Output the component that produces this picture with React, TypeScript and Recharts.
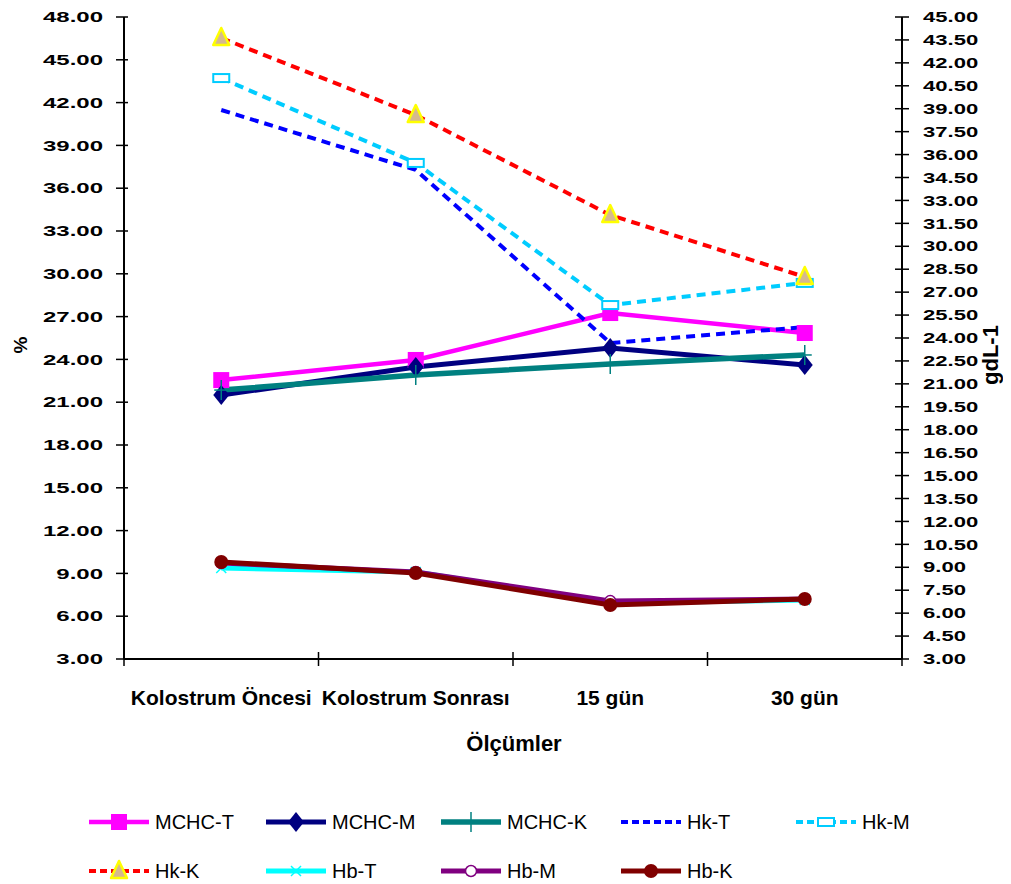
import React from "react";
import { LineChart, Line, XAxis, YAxis, Legend } from "recharts";

const categories = ["Kolostrum Öncesi", "Kolostrum Sonrası", "15 gün", "30 gün"];
const mchcT = [22.55, 23.96, 27.25, 25.85];
const mchcM = [21.5, 23.46, 24.8, 23.6];
const mchcK = [21.85, 22.9, 23.68, 24.31];
const hkT = [41.48, 37.28, 25.15, 26.27];
const hkM = [43.72, 37.77, 27.81, 29.36];
const hkK = [46.53, 41.13, 34.12, 29.78];
const hbT = [8.95, 8.69, 6.66, 6.86];
const hbM = [9.28, 8.69, 6.79, 6.93];
const hbK = [9.35, 8.63, 6.53, 6.93];
const leftTicks = [3, 6, 9, 12, 15, 18, 21, 24, 27, 30, 33, 36, 39, 42, 45, 48];
const rightTicks = [3, 4.5, 6, 7.5, 9, 10.5, 12, 13.5, 15, 16.5, 18, 19.5, 21, 22.5, 24, 25.5, 27, 28.5, 30, 31.5, 33, 34.5, 36, 37.5, 39, 40.5, 42, 43.5, 45];

const data = categories.map((c, i) => ({
  name: c,
  "MCHC-T": mchcT[i],
  "MCHC-M": mchcM[i],
  "MCHC-K": mchcK[i],
  "Hk-T": hkT[i],
  "Hk-M": hkM[i],
  "Hk-K": hkK[i],
  "Hb-T": hbT[i],
  "Hb-M": hbM[i],
  "Hb-K": hbK[i],
}));

const FONT = "'Liberation Sans', Arial, sans-serif";
const W = 1003;
const H = 876;
const HALF_BAND = 778 / 8;

type MarkerKind = "square" | "diamond" | "plus" | "none" | "rect" | "triangle" | "x" | "circleOpen" | "circle";

const Marker = ({ kind, cx, cy, color }: { kind: MarkerKind; cx: number; cy: number; color: string }) => {
  switch (kind) {
    case "square":
      return <rect x={cx - 8} y={cy - 8} width={16} height={16} fill={color} />;
    case "diamond":
      return <polygon points={`${cx},${cy - 10} ${cx + 8},${cy} ${cx},${cy + 10} ${cx - 8},${cy}`} fill={color} />;
    case "plus":
      return (
        <g stroke={color} strokeWidth={1.5}>
          <line x1={cx} y1={cy - 10} x2={cx} y2={cy + 10} />
          <line x1={cx - 7} y1={cy} x2={cx + 7} y2={cy} />
        </g>
      );
    case "rect":
      return <rect x={cx - 8} y={cy - 4} width={16} height={8} fill="white" stroke={color} strokeWidth={2} />;
    case "triangle":
      return (
        <polygon
          points={`${cx},${cy - 10} ${cx + 8},${cy + 7} ${cx - 8},${cy + 7}`}
          fill="#D6B98E"
          stroke="#FFFF00"
          strokeWidth={2.5}
          strokeLinejoin="round"
        />
      );
    case "x":
      return (
        <g stroke={color} strokeWidth={1.5}>
          <line x1={cx - 5} y1={cy - 5} x2={cx + 5} y2={cy + 5} />
          <line x1={cx - 5} y1={cy + 5} x2={cx + 5} y2={cy - 5} />
        </g>
      );
    case "circleOpen":
      return <circle cx={cx} cy={cy} r={5.5} fill="white" stroke={color} strokeWidth={1.5} />;
    case "circle":
      return <circle cx={cx} cy={cy} r={7} fill={color} />;
    default:
      return null;
  }
};

type SeriesDef = { key: string; color: string; width: number; dash?: string; marker: MarkerKind; axis: "left" | "right" };

const series: SeriesDef[] = [
  { key: "MCHC-T", color: "#FF00FF", width: 4.5, marker: "square", axis: "left" },
  { key: "MCHC-M", color: "#000080", width: 5, marker: "diamond", axis: "left" },
  { key: "MCHC-K", color: "#008080", width: 5.5, marker: "plus", axis: "left" },
  { key: "Hk-T", color: "#0000FF", width: 4, dash: "9 6", marker: "none", axis: "left" },
  { key: "Hk-M", color: "#00CCFF", width: 4, dash: "9 6", marker: "rect", axis: "left" },
  { key: "Hk-K", color: "#FF0000", width: 4, dash: "9 6", marker: "triangle", axis: "left" },
  { key: "Hb-T", color: "#00FFFF", width: 5, marker: "x", axis: "right" },
  { key: "Hb-M", color: "#800080", width: 5, marker: "circleOpen", axis: "right" },
  { key: "Hb-K", color: "#800000", width: 5, marker: "circle", axis: "right" },
];

const legendRows: string[][] = [
  ["MCHC-T", "MCHC-M", "MCHC-K", "Hk-T", "Hk-M"],
  ["Hk-K", "Hb-T", "Hb-M", "Hb-K"],
];
const legendX = [80, 257, 432, 612, 787];
const legendRowY = [63, 112];

const LegendContent = () => (
  <div style={{ position: "relative", width: W, height: 125 }}>
    {legendRows.map((row, r) =>
      row.map((k, i) => {
        const s = series.find((d) => d.key === k)!;
        return (
          <React.Fragment key={k}>
            <svg
              width={62}
              height={26}
              style={{ position: "absolute", left: legendX[i], top: legendRowY[r] - 13 }}
            >
              <line x1={1} y1={13} x2={61} y2={13} stroke={s.color} strokeWidth={s.width} strokeDasharray={s.dash ? "7 4" : undefined} />
              <Marker kind={s.marker} cx={31} cy={13} color={s.color} />
            </svg>
            <span
              style={{
                position: "absolute",
                left: legendX[i] + 67,
                top: legendRowY[r] - 11,
                fontFamily: FONT,
                fontSize: 20,
                lineHeight: "22px",
                color: "#000",
                whiteSpace: "nowrap",
              }}
            >
              {k}
            </span>
          </React.Fragment>
        );
      })
    )}
  </div>
);

const LeftTick = (props: any) => {
  const { x, y, payload } = props;
  return (
    <g>
      <line x1={x - 8} y1={y} x2={x + 4} y2={y} stroke="#000" strokeWidth={1.5} />
      <text
        transform={`translate(${x - 21},${y}) scale(1.6,1)`}
        textAnchor="end"
        dominantBaseline="central"
        fontFamily={FONT}
        fontWeight="bold"
        fontSize={15}
        fill="#000"
      >
        {Number(payload.value).toFixed(2)}
      </text>
    </g>
  );
};

const RightTick = (props: any) => {
  const { x, y, payload } = props;
  return (
    <g>
      <line x1={x - 7} y1={y} x2={x + 7} y2={y} stroke="#000" strokeWidth={1.5} />
      <text
        transform={`translate(${x + 21},${y}) scale(1.47,1)`}
        textAnchor="start"
        dominantBaseline="central"
        fontFamily={FONT}
        fontWeight="bold"
        fontSize={15}
        fill="#000"
      >
        {Number(payload.value).toFixed(2)}
      </text>
    </g>
  );
};

const BottomTick = (props: any) => {
  const { x, y, payload, index } = props;
  return (
    <g>
      <line x1={x - HALF_BAND} y1={y - 7} x2={x - HALF_BAND} y2={y + 7} stroke="#000" strokeWidth={1.5} />
      {index === categories.length - 1 && (
        <line x1={x + HALF_BAND} y1={y - 7} x2={x + HALF_BAND} y2={y + 7} stroke="#000" strokeWidth={1.5} />
      )}
      <text
        x={x}
        y={y + 38}
        textAnchor="middle"
        dominantBaseline="central"
        fontFamily={FONT}
        fontWeight="bold"
        fontSize={21}
        fill="#000"
      >
        {payload.value}
      </text>
    </g>
  );
};

export default function App() {
  return (
    <div style={{ width: W, height: H }}>
      <LineChart width={W} height={H} data={data} margin={{ top: 9, right: 0, left: 0, bottom: 0 }}>
        <XAxis
          dataKey="name"
          scale="band"
          height={100}
          tickSize={0}
          tickMargin={0}
          tickLine={false}
          interval={0}
          axisLine={{ stroke: "#000", strokeWidth: 2 }}
          tick={<BottomTick />}
          label={{
            content: (p: any) => {
              const vb = p.viewBox;
              return (
                <text
                  x={vb.x + vb.width / 2 + 1}
                  y={vb.y + 84}
                  textAnchor="middle"
                  dominantBaseline="central"
                  fontFamily={FONT}
                  fontWeight="bold"
                  fontSize={22}
                  fill="#000"
                >
                  Ölçümler
                </text>
              );
            },
          }}
        />
        <YAxis
          yAxisId="left"
          orientation="left"
          width={116}
          domain={[3, 48]}
          ticks={leftTicks}
          interval={0}
          tickSize={0}
          tickMargin={0}
          tickLine={false}
          axisLine={{ stroke: "#000", strokeWidth: 2 }}
          tick={<LeftTick />}
          allowDataOverflow
          label={{
            content: (p: any) => {
              const vb = p.viewBox;
              const cy = vb.y + vb.height / 2 + 7;
              return (
                <text
                  x={12}
                  y={cy}
                  transform={`rotate(-90 12 ${cy})`}
                  textAnchor="middle"
                  dominantBaseline="central"
                  fontFamily={FONT}
                  fontWeight="bold"
                  fontSize={19}
                  fill="#000"
                >
                  %
                </text>
              );
            },
          }}
        />
        <YAxis
          yAxisId="right"
          orientation="right"
          width={109}
          domain={[3, 45]}
          ticks={rightTicks}
          interval={0}
          tickSize={0}
          tickMargin={0}
          tickLine={false}
          axisLine={{ stroke: "#000", strokeWidth: 2 }}
          tick={<RightTick />}
          allowDataOverflow
          label={{
            content: (p: any) => {
              const vb = p.viewBox;
              const cx = vb.x + 88;
              const cy = vb.y + vb.height / 2 + 17;
              return (
                <text
                  x={cx}
                  y={cy}
                  transform={`rotate(-90 ${cx} ${cy})`}
                  textAnchor="middle"
                  dominantBaseline="central"
                  fontFamily={FONT}
                  fontWeight="bold"
                  fontSize={22}
                  fill="#000"
                >
                  gdL-1
                </text>
              );
            },
          }}
        />
        <Legend verticalAlign="bottom" align="left" content={<LegendContent />} />
        {series.map((s) => (
          <Line
            key={s.key}
            yAxisId={s.axis}
            dataKey={s.key}
            type="linear"
            stroke={s.color}
            strokeWidth={s.width}
            strokeDasharray={s.dash}
            isAnimationActive={false}
            activeDot={false}
            dot={(p: any) => (
              <Marker key={`${s.key}-${p.index}`} kind={s.marker} cx={p.cx} cy={p.cy} color={s.color} />
            )}
          />
        ))}
      </LineChart>
    </div>
  );
}
